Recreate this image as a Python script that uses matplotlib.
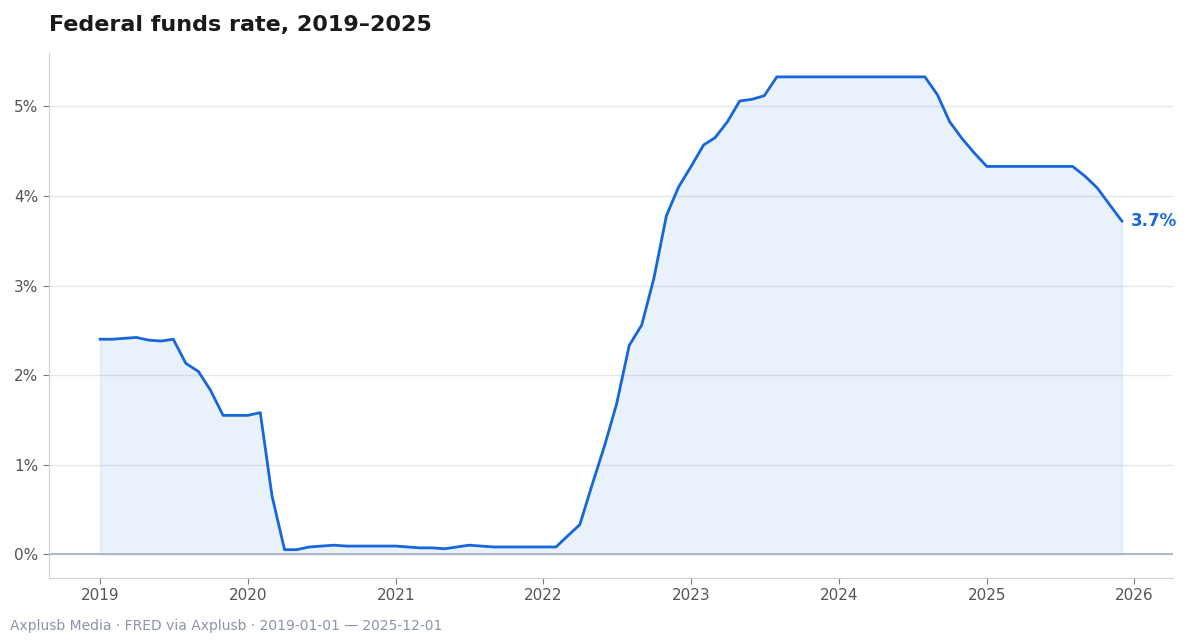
import numpy as np
import pandas as pd
import matplotlib
matplotlib.use('Agg')
import matplotlib.pyplot as plt
import matplotlib.dates as mdates
from matplotlib.ticker import FuncFormatter

# monthly effective federal funds rate, %
dates = pd.date_range('2019-01-01', '2025-12-01', freq='MS')
rate_2019 = [2.40, 2.40, 2.41, 2.42, 2.39, 2.38, 2.40, 2.13, 2.04, 1.83, 1.55, 1.55]
rate_2020 = [1.55, 1.58, 0.65, 0.05, 0.05, 0.08, 0.09, 0.10, 0.09, 0.09, 0.09, 0.09]
rate_2021 = [0.09, 0.08, 0.07, 0.07, 0.06, 0.08, 0.10, 0.09, 0.08, 0.08, 0.08, 0.08]
rate_2022 = [0.08, 0.08, 0.20, 0.33, 0.77, 1.21, 1.68, 2.33, 2.56, 3.08, 3.78, 4.10]
rate_2023 = [4.33, 4.57, 4.65, 4.83, 5.06, 5.08, 5.12, 5.33, 5.33, 5.33, 5.33, 5.33]
rate_2024 = [5.33, 5.33, 5.33, 5.33, 5.33, 5.33, 5.33, 5.33, 5.13, 4.83, 4.64, 4.48]
rate_2025 = [4.33, 4.33, 4.33, 4.33, 4.33, 4.33, 4.33, 4.33, 4.22, 4.09, 3.90, 3.72]
rate = np.array(rate_2019 + rate_2020 + rate_2021 + rate_2022 + rate_2023 + rate_2024 + rate_2025)

blue = '#1668da'

fig = plt.figure(figsize=(12, 6.4), dpi=100)
ax = fig.add_axes([49/1200, 62/640, 1124/1200, 525/640])

ax.fill_between(dates, rate, 0, color=blue, alpha=0.09, linewidth=1)
ax.plot(dates, rate, color=blue, linewidth=2)
ax.axhline(0, color='#a3b0c2', linewidth=1.2)

ax.text(dates[-1] + pd.Timedelta(days=22), rate[-1], '3.7%', color=blue,
        fontsize=12, fontweight='bold', va='center', ha='left')

ax.yaxis.set_major_formatter(FuncFormatter(lambda v, p: '%d%%' % v))
ax.set_yticks([0, 1, 2, 3, 4, 5])
ax.xaxis.set_major_locator(mdates.YearLocator())
ax.xaxis.set_major_formatter(mdates.DateFormatter('%Y'))
ax.grid(axis='y', color='#e3e6ea', linewidth=1)
ax.set_axisbelow(True)
for s in ['top', 'right']:
    ax.spines[s].set_visible(False)
for s in ['left', 'bottom']:
    ax.spines[s].set_color('#d0d0d0')
ax.tick_params(labelcolor='#555555', color='#777777', labelsize=11, length=4)

fig.text(49/1200, 1 - 25/640, 'Federal funds rate, 2019\u20132025', fontsize=16,
         fontweight='bold', color='#1a1a1a', va='center', ha='left')
fig.text(10/1200, 1 - 626/640, 'Axplusb Media \u00b7 FRED via Axplusb \u00b7 2019-01-01 \u2014 2025-12-01',
         fontsize=10, color='#8a94a6', va='center', ha='left')

fig.savefig('out.png', dpi=100)
